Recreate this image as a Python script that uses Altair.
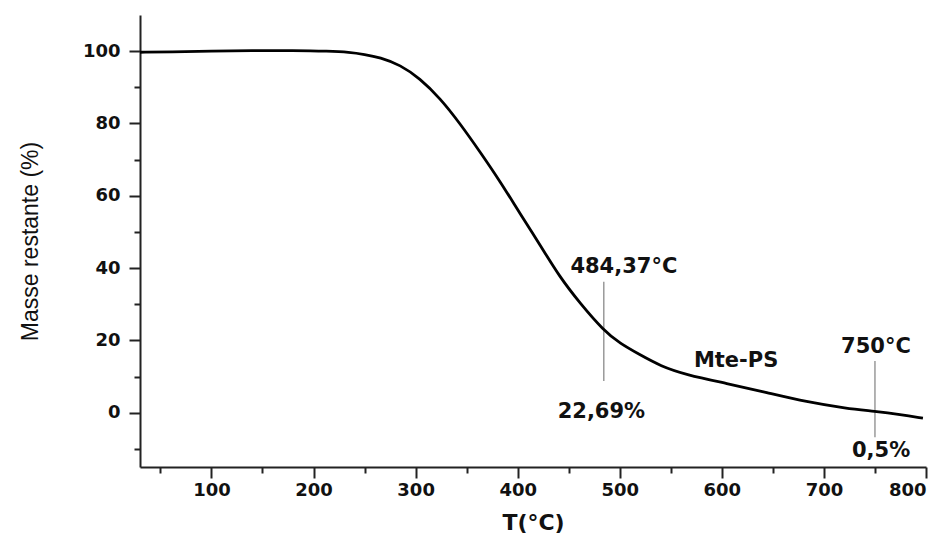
import altair as alt
import pandas as pd

# Thermogravimetric curve (T in °C, remaining mass in %)
temps = [30, 60, 100, 140, 180, 215, 235, 250, 265, 285, 304, 324, 343.5, 363, 383,
         402, 422, 441, 461, 484.37, 500, 520, 540, 565, 605, 644, 683, 722, 750, 775, 797]
masses = [99.7, 99.8, 100.0, 100.2, 100.2, 100.0, 99.7, 99.1, 98.3, 96.2, 92.5, 87.0, 80.0, 72.2, 63.9,
          55.2, 46.4, 37.6, 30.3, 22.69, 19.2, 16.0, 12.9, 10.5, 8.1, 5.6, 3.0, 1.2, 0.4, -0.5, -1.5]

# Marker lines
marker_x = [484.37, 750]
marker_y1 = [8.8, -6.8]
marker_y2 = [36.2, 14.3]

# Annotations
ann_text = ["484,37°C", "22,69%", "Mte-PS", "750°C", "0,5%"]
ann_x = [504, 482, 614, 751, 756]
ann_y = [40.4, 0.3, 14.3, 18.3, -10.6]

curve = pd.DataFrame({"T": temps, "m": masses})
markers = pd.DataFrame({"T": marker_x, "y1": marker_y1, "y2": marker_y2})
ann = pd.DataFrame({"txt": ann_text, "T": ann_x, "y": ann_y})

x_ticks = list(range(50, 801, 50))
y_ticks = list(range(-10, 101, 10))

xscale = alt.Scale(domain=[30, 800], nice=False, zero=False)
yscale = alt.Scale(domain=[-15, 110], nice=False, zero=False)

tick_font = "DejaVu Sans"

x_axis = alt.Axis(
    values=x_ticks,
    labelExpr="datum.value % 100 === 0 ? datum.label : ''",
    tickSize={"condition": {"test": "datum.value % 100 !== 0", "value": 6}, "value": 11},
    grid=False, domainColor="#222", domainWidth=2, tickColor="#222", tickWidth=2,
    labelFont=tick_font, labelFontWeight="bold", labelFontSize=18, labelColor="#111",
    labelPadding=3, title="T(°C)", titleFont=tick_font, titleFontWeight="bold",
    titleFontSize=22, titleColor="#111", titlePadding=13,
)
y_axis = alt.Axis(
    values=y_ticks,
    labelExpr="datum.value % 20 === 0 ? datum.label : ''",
    tickSize={"condition": {"test": "datum.value % 20 !== 0", "value": 6}, "value": 11},
    grid=False, domainColor="#222", domainWidth=2, tickColor="#222", tickWidth=2,
    labelFont=tick_font, labelFontWeight="bold", labelFontSize=18, labelColor="#111",
    labelPadding=9, title="Masse restante (%)", titleFont="Liberation Sans",
    titleFontWeight="normal", titleFontSize=23, titleColor="#111", titlePadding=40,
)

line = alt.Chart(curve).mark_line(color="black", strokeWidth=2.8, interpolate="basis").encode(
    x=alt.X("T:Q", scale=xscale, axis=x_axis),
    y=alt.Y("m:Q", scale=yscale, axis=y_axis),
)

rules = alt.Chart(markers).mark_rule(color="#8a8a8a", strokeWidth=1.3).encode(
    x="T:Q", y="y1:Q", y2="y2:Q"
)

texts = alt.Chart(ann).mark_text(
    font=tick_font, fontWeight="bold", fontSize=21, color="#111", baseline="middle", align="center"
).encode(x="T:Q", y="y:Q", text="txt:N")

chart = alt.layer(rules, line, texts).properties(
    width=786, height=452,
    autosize=alt.AutoSizeParams(type="none"),
    padding={"left": 132, "top": 7, "right": 10, "bottom": 67},
).configure_view(stroke=None)

chart.save("out.html", embed_options={"renderer": "svg", "actions": False})
